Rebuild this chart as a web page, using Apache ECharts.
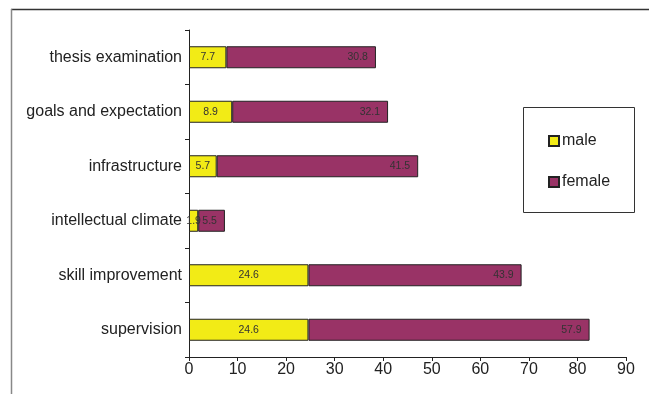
<!DOCTYPE html>
<html>
<head>
<meta charset="utf-8">
<script src="https://cdn.jsdelivr.net/npm/echarts@6/dist/echarts.min.js"></script>
<style>
html,body{margin:0;padding:0;background:#fff;}
#chart{width:649px;height:394px;}
</style>
</head>
<body>
<div id="chart"></div>
<script>
var categories = ["supervision", "skill improvement", "intellectual climate", "infrastructure", "goals and expectation", "thesis examination"];
var maleValues = [24.6, 24.6, 1.9, 5.7, 8.9, 7.7];
var femaleValues = [57.9, 43.9, 5.5, 41.5, 32.1, 30.8];
var xTicks = [0, 10, 20, 30, 40, 50, 60, 70, 80, 90];

var chart = echarts.init(document.getElementById('chart'), null, {renderer: 'canvas'});
var font = 'Liberation Sans, Arial, sans-serif';
chart.setOption({
  animation: false,
  backgroundColor: '#ffffff',
  grid: {left: 189, right: 23, top: 30, bottom: 37, containLabel: false},
  xAxis: {
    type: 'value', min: xTicks[0], max: xTicks[xTicks.length - 1], interval: 10,
    splitLine: {show: false},
    axisLine: {show: true, lineStyle: {color: '#222', width: 1}},
    axisTick: {show: true, length: 4, lineStyle: {color: '#222'}},
    axisLabel: {color: '#222', fontSize: 16, fontFamily: font, margin: 5}
  },
  yAxis: {
    type: 'category', data: categories,
    axisLine: {show: true, lineStyle: {color: '#222', width: 1}},
    axisTick: {show: true, length: 4, alignWithLabel: false, lineStyle: {color: '#222'}},
    axisLabel: {color: '#222', fontSize: 16, fontFamily: font, margin: 7}
  },
  legend: {
    orient: 'vertical', left: 548, top: 133, padding: 0,
    itemWidth: 10, itemHeight: 10, itemGap: 25,
    icon: 'rect',
    textStyle: {color: '#222', fontSize: 16, fontFamily: font, padding: [0, 0, 0, -2]},
    data: ['male', 'female']
  },
  series: [
    {
      name: 'male', type: 'bar', stack: 'total', barWidth: 22,
      data: maleValues,
      itemStyle: {color: '#f2eb16', borderColor: '#222', borderWidth: 1},
      label: {show: true, position: 'inside', color: '#333', fontSize: 10.5, fontFamily: font}
    },
    {
      name: 'female', type: 'bar', stack: 'total', barWidth: 22,
      data: femaleValues,
      itemStyle: {color: '#993366', borderColor: '#222', borderWidth: 1},
      label: {show: true, position: 'insideRight', distance: 8, color: '#333', fontSize: 10.5, fontFamily: font}
    }
  ],
  graphic: [
    {type: 'line', shape: {x1: 11, y1: 9.5, x2: 649, y2: 9.5}, style: {stroke: '#333', lineWidth: 1.5}},
    {type: 'line', shape: {x1: 11.5, y1: 9, x2: 11.5, y2: 394}, style: {stroke: '#888', lineWidth: 1.5}},
    {type: 'rect', shape: {x: 523.5, y: 107.5, width: 111, height: 105}, style: {fill: 'none', stroke: '#333', lineWidth: 1}, z: -1}
  ]
});
</script>
</body>
</html>
